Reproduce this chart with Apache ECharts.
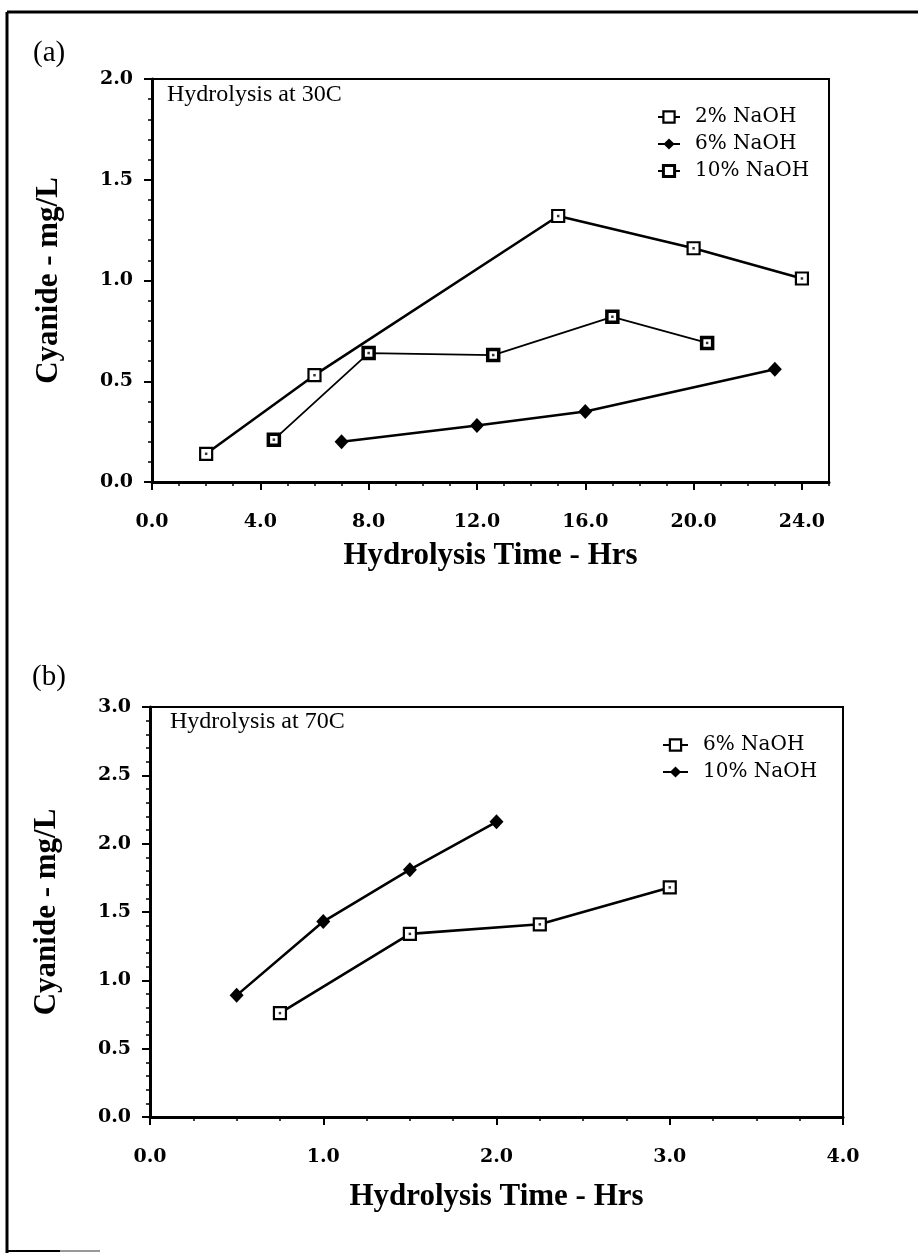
<!DOCTYPE html>
<html>
<head>
<meta charset="utf-8">
<title>Cyanide vs hydrolysis time</title>
<script src="https://cdn.jsdelivr.net/npm/echarts@6/dist/echarts.min.js"></script>
<style>
  html, body { margin: 0; padding: 0; background: #fff; }
  #chart { width: 918px; height: 1253px; }
</style>
</head>
<body>
<div id="chart"></div>
<script>
// Panel (a): hydrolysis at 30C
const hoursA_2 = [2, 6, 15, 20, 24];
const cyanideA_2 = [0.14, 0.53, 1.32, 1.16, 1.01];
const hoursA_6 = [7, 12, 16, 23];
const cyanideA_6 = [0.20, 0.28, 0.35, 0.56];
const hoursA_10 = [4.5, 8, 12.6, 17, 20.5];
const cyanideA_10 = [0.21, 0.64, 0.63, 0.82, 0.69];

// Panel (b): hydrolysis at 70C
const hoursB_6 = [0.75, 1.5, 2.25, 3.0];
const cyanideB_6 = [0.76, 1.34, 1.41, 1.68];
const hoursB_10 = [0.5, 1.0, 1.5, 2.0];
const cyanideB_10 = [0.89, 1.43, 1.81, 2.16];

// Tick labels
const xTicksA = [0, 4, 8, 12, 16, 20, 24];
const yTicksA = [0, 0.5, 1.0, 1.5, 2.0];
const xTicksB = [0, 1, 2, 3, 4];
const yTicksB = [0, 0.5, 1.0, 1.5, 2.0, 2.5, 3.0];

const namesA = ['2% NaOH', '6% NaOH', '10% NaOH'];
const namesB = ['6% NaOH', '10% NaOH'];
const xTitle = 'Hydrolysis Time - Hrs';
const yTitle = 'Cyanide - mg/L';

const zip = (xs, ys) => xs.map((x, i) => [x, ys[i]]);

const tickFont = { fontFamily: 'DejaVu Serif', fontWeight: 'bold', fontSize: 19, color: '#000' };
const titleFont = { fontFamily: 'Liberation Serif', fontWeight: 'bold', fontSize: 31, color: '#000' };

function majorX(grid, max, interval, ticks, gap) {
  return {
    type: 'value', gridIndex: grid, position: 'bottom', min: 0, max: max, interval: interval,
    axisLine: { lineStyle: { color: '#000', width: 3 } },
    axisTick: { inside: false, length: 8, lineStyle: { color: '#000', width: 2 }, customValues: ticks },
    axisLabel: Object.assign({ margin: 31, customValues: ticks, formatter: v => v.toFixed(1) }, tickFont),
    splitLine: { show: false },
    name: xTitle, nameLocation: 'middle', nameGap: gap, nameTextStyle: titleFont
  };
}
function minorX(grid, max, interval) {
  return {
    type: 'value', gridIndex: grid, position: 'bottom', min: 0, max: max, interval: interval,
    axisLine: { show: false },
    axisTick: { inside: false, length: 4, lineStyle: { color: '#000', width: 1.5 } },
    axisLabel: { show: false }, splitLine: { show: false }
  };
}
function majorY(grid, max, ticks, gap) {
  return {
    type: 'value', gridIndex: grid, position: 'left', min: 0, max: max, interval: 0.5,
    axisLine: { lineStyle: { color: '#000', width: 3 } },
    axisTick: { inside: false, length: 8, lineStyle: { color: '#000', width: 2 }, customValues: ticks },
    axisLabel: Object.assign({ margin: 19, customValues: ticks, formatter: v => v.toFixed(1) }, tickFont),
    splitLine: { show: false },
    name: yTitle, nameLocation: 'middle', nameGap: gap, nameRotate: 90, nameTextStyle: titleFont
  };
}
function minorY(grid, max) {
  return {
    type: 'value', gridIndex: grid, position: 'left', min: 0, max: max, interval: 0.1,
    axisLine: { show: false },
    axisTick: { inside: false, length: 4, lineStyle: { color: '#000', width: 1.5 } },
    axisLabel: { show: false }, splitLine: { show: false }
  };
}

const openStyle = { color: '#fff', borderColor: '#000', borderWidth: 2.2 };
const boldStyle = { color: '#fff', borderColor: '#000', borderWidth: 3.5 };
const solidStyle = { color: '#000', borderColor: '#000', borderWidth: 0 };

function openSquare(name, xi, yi, data) {
  return {
    type: 'line', name: name, xAxisIndex: xi, yAxisIndex: yi, data: data,
    symbol: 'rect', symbolSize: 12, z: 3,
    lineStyle: { color: '#000', width: 2.6 }, itemStyle: openStyle
  };
}
function boldSquare(name, xi, yi, data) {
  return {
    type: 'line', name: name, xAxisIndex: xi, yAxisIndex: yi, data: data,
    symbol: 'rect', symbolSize: 11, z: 3,
    lineStyle: { color: '#000', width: 1.8 }, itemStyle: boldStyle
  };
}
function diamond(name, xi, yi, data) {
  return {
    type: 'line', name: name, xAxisIndex: xi, yAxisIndex: yi, data: data,
    symbol: 'diamond', symbolSize: [14, 15], z: 3,
    lineStyle: { color: '#000', width: 2.6 }, itemStyle: solidStyle
  };
}
// centre dots inside the square markers
function dots(xi, yi, data) {
  return {
    type: 'scatter', xAxisIndex: xi, yAxisIndex: yi, data: data, silent: true,
    symbol: 'rect', symbolSize: 2.5, z: 5, itemStyle: { color: '#000' }
  };
}

const dA2 = zip(hoursA_2, cyanideA_2);
const dA6 = zip(hoursA_6, cyanideA_6);
const dA10 = zip(hoursA_10, cyanideA_10);
const dB6 = zip(hoursB_6, cyanideB_6);
const dB10 = zip(hoursB_10, cyanideB_10);

const legendText = { fontFamily: 'DejaVu Serif', fontSize: 20, lineHeight: 20, color: '#000', padding: [0, 0, 0, 10] };

const option = {
  backgroundColor: '#fff',
  animation: false,
  grid: [
    { left: 152, top: 79, width: 677, height: 403, show: true, borderColor: '#000', borderWidth: 2, backgroundColor: 'transparent' },
    { left: 150, top: 707, width: 693, height: 410, show: true, borderColor: '#000', borderWidth: 2, backgroundColor: 'transparent' }
  ],
  xAxis: [
    majorX(0, 25, 4, xTicksA, 58),
    minorX(0, 25, 1),
    majorX(1, 4, 1, xTicksB, 64),
    minorX(1, 4, 0.25)
  ],
  yAxis: [
    majorY(0, 2, yTicksA, 88),
    minorY(0, 2),
    majorY(1, 3, yTicksB, 88),
    minorY(1, 3)
  ],
  legend: [
    { data: [
        { name: namesA[0], itemStyle: openStyle },
        { name: namesA[1], itemStyle: solidStyle },
        { name: namesA[2], itemStyle: { color: '#fff', borderColor: '#000', borderWidth: 3 } }
      ],
      orient: 'vertical', left: 652, top: 102, itemGap: 7, itemWidth: 22, itemHeight: 14,
      textStyle: legendText, selectedMode: false },
    { data: [
        { name: namesB[0] + ' ', itemStyle: openStyle },
        { name: namesB[1] + ' ', itemStyle: solidStyle }
      ],
      orient: 'vertical', left: 657, top: 730, itemGap: 7, itemWidth: 25, itemHeight: 14,
      textStyle: legendText, selectedMode: false }
  ],
  series: [
    openSquare(namesA[0], 0, 0, dA2),
    diamond(namesA[1], 0, 0, dA6),
    boldSquare(namesA[2], 0, 0, dA10),
    dots(0, 0, dA2.concat(dA10)),
    openSquare(namesB[0] + ' ', 2, 2, dB6),
    diamond(namesB[1] + ' ', 2, 2, dB10),
    dots(2, 2, dB6)
  ],
  graphic: [
    { type: 'line', shape: { x1: 7, y1: 12, x2: 918, y2: 12 }, style: { stroke: '#000', lineWidth: 3 } },
    { type: 'line', shape: { x1: 7, y1: 12, x2: 7, y2: 1253 }, style: { stroke: '#000', lineWidth: 3 } },
    { type: 'line', shape: { x1: 7, y1: 1251, x2: 60, y2: 1251 }, style: { stroke: '#000', lineWidth: 2 } },
    { type: 'line', shape: { x1: 60, y1: 1251, x2: 100, y2: 1251 }, style: { stroke: '#999', lineWidth: 2 } },
    { type: 'text', left: 33, top: 39, style: { text: '(a)', font: '29px "Liberation Serif"', fill: '#000' } },
    { type: 'text', left: 32, top: 663, style: { text: '(b)', font: '29px "Liberation Serif"', fill: '#000' } },
    { type: 'text', left: 167, top: 83, style: { text: 'Hydrolysis at 30C', font: '24px "Liberation Serif"', fill: '#000' } },
    { type: 'text', left: 170, top: 710, style: { text: 'Hydrolysis at 70C', font: '24px "Liberation Serif"', fill: '#000' } }
  ]
};

const chart = echarts.init(document.getElementById('chart'), null, { renderer: 'canvas' });
chart.setOption(option);
</script>
</body>
</html>
